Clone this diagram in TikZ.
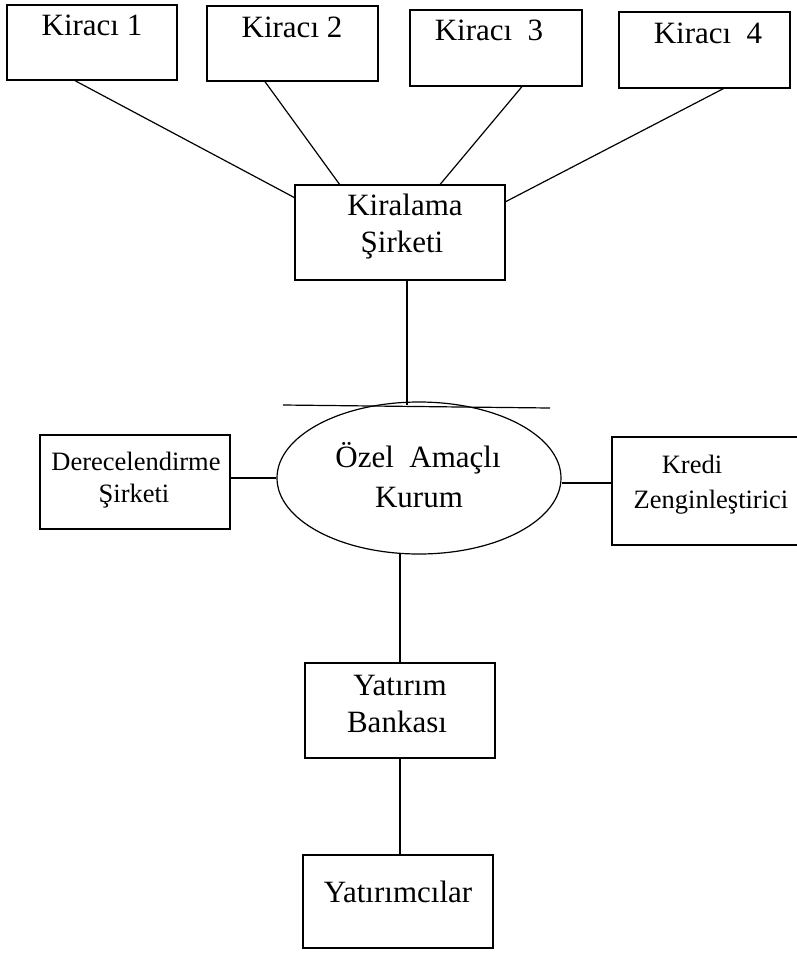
\documentclass[tikz,border=0pt]{standalone}
\usepackage{fontspec}
\setmainfont{Liberation Serif}
\usetikzlibrary{shapes.geometric,calc}
\begin{document}
\begin{tikzpicture}[x=1pt,y=-1pt,
  box/.style={draw,line width=1.2pt,rectangle,inner sep=0pt},
  oval/.style={draw,line width=1.2pt,ellipse,inner sep=0pt,minimum width=284pt,minimum height=152pt},
  big/.style={anchor=base,inner sep=0pt,font=\fontsize{31}{35}\selectfont},
  small/.style={anchor=base,inner sep=0pt,font=\fontsize{26.5}{30}\selectfont},
  link/.style={line width=1.2pt}]
\clip (0,0) rectangle (797,954);
% boxes
\node[box,minimum width=170pt,minimum height=75pt] (k1) at (92,42.5) {};
\node[box,minimum width=171pt,minimum height=75pt] (k2) at (292.5,43.5) {};
\node[box,minimum width=172pt,minimum height=76pt] (k3) at (496,48) {};
\node[box,minimum width=171pt,minimum height=76pt] (k4) at (704.5,50) {};
\node[box,minimum width=210pt,minimum height=95pt] (kir) at (400,232.5) {};
\node[oval] (e) at (419,478) {};
\node[box,minimum width=190pt,minimum height=94pt] (d) at (135,482) {};
\node[box,minimum width=193pt,minimum height=108pt] (kr) at (708.5,491) {};
\node[box,minimum width=190pt,minimum height=95pt] (yb) at (400,710.5) {};
\node[box,minimum width=190pt,minimum height=93pt] (yc) at (398,901.5) {};
% texts
\node[big] (t1) at (92,35) {Kiracı 1};
\node[big] (t2) at (292,37) {Kiracı 2};
\node[big] (t3) at (489,40) {Kiracı\ \ 3};
\node[big] (t4) at (708,43) {Kiracı\ \ 4};
\node[big] (tk1) at (405,215) {Kiralama};
\node[big] (tk2) at (402,252) {Şirketi};
\node[big] (te1) at (418,467) {Özel\ \ Amaçlı};
\node[big] (te2) at (419,507) {Kurum};
\node[small] (td1) at (136,470) {Derecelendirme};
\node[small] (td2) at (134,502) {Şirketi};
\node[small] (tr1) at (692,473) {Kredi};
\node[small] (tr2) at (711,508) {Zenginleştirici};
\node[big] (ty1) at (400,695) {Yatırım};
\node[big] (ty2) at (397,732) {Bankası};
\node[big] (tc) at (398,902) {Yatırımcılar};
% connectors
\draw[link] ($(k1.south west)!0.4!(k1.south east)$) -- ($(kir.north west)!0.137!(kir.south west)$);
\draw[link] ($(k2.south west)!0.34!(k2.south east)$) -- ($(kir.north west)!0.214!(kir.north east)$);
\draw[link] ($(k3.south west)!0.65!(k3.south east)$) -- ($(kir.north west)!0.69!(kir.north east)$);
\draw[link] ($(k4.south west)!0.61!(k4.south east)$) -- ($(kir.north east)!0.18!(kir.south east)$);
\coordinate (kb) at ($(kir.south west)!0.533!(kir.south east)$);
\draw[link] (kb) -- ($(kb |- e.north)+(0,4)$);
\coordinate (tl) at (283,405);
\coordinate (tr) at (550,408);
\draw[link] (tl) -- (tr);
\draw[link] (d.east |- e.west) -- (e.west);
\draw[link] ($(e.east)+(0,5)$) -- ($(e.east -| kr.west)+(0,5)$);
\draw[link] (yb.north) -- ($(yb.north |- e.south)+(0,-1)$);
\draw[link] (yb.south) -- (yb.south |- yc.north);
\end{tikzpicture}
\end{document}
